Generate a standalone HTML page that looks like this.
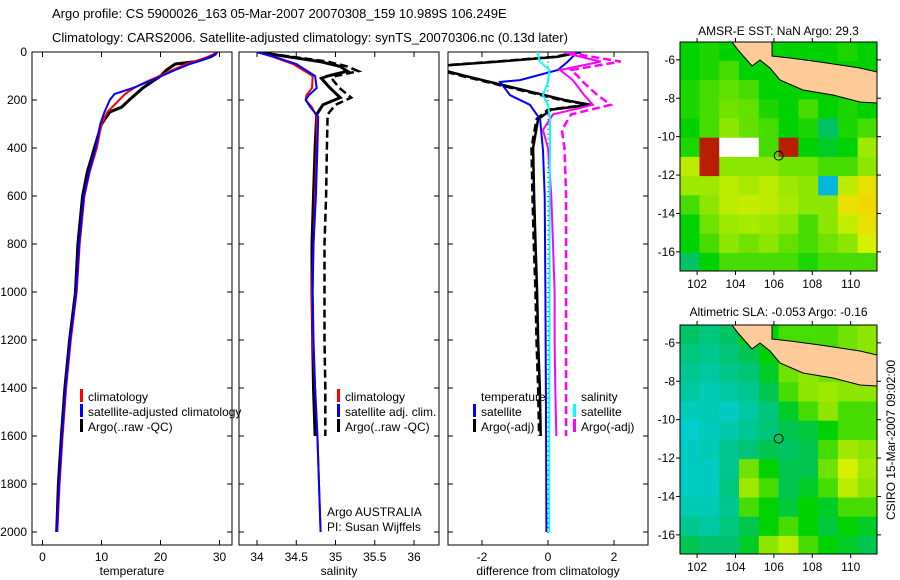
<!DOCTYPE html>
<html><head><meta charset="utf-8">
<style>
html,body{margin:0;padding:0;background:#fff;}
svg{display:block;font-family:"Liberation Sans",sans-serif;}
</style></head>
<body>
<svg id="fig" width="900" height="580" viewBox="0 0 900 580" xmlns="http://www.w3.org/2000/svg">
<text x="52" y="18" font-size="13">Argo profile: CS 5900026_163 05-Mar-2007 20070308_159 10.989S 106.249E</text>
<text x="52" y="42" font-size="13">Climatology: CARS2006. Satellite-adjusted climatology: synTS_20070306.nc (0.13d later)</text>
<g id="plots"></g>
</svg>
<script>
// ---------- data ----------
const tempClimDepth=[0,10,30,50,75,100,125,150,175,200,250,300,400,500,600,800,1000,1200,1400,1600,1800,2000];
const tempClim=[29.3,29,27,24.4,22,19.8,17.5,15.5,14,13,11,10,9.2,8,7.1,6.3,5.8,4.8,4.0,3.4,2.9,2.5];
const tempSat=[29.6,29.3,27.5,25,22.5,20.2,17.8,15.3,12.2,11.4,10.5,9.8,9.0,7.9,7.0,6.2,5.7,4.7,3.9,3.3,2.8,2.4];
const tempArgoDepth=[0,10,20,40,50,75,100,150,200,230,250,300,400,500,600,800,1000,1200,1400,1600,1800,2000];
const tempArgo=[29.5,29.2,28.5,26,22.5,21,20,17,14.7,13.4,11.4,10,8.8,7.6,6.8,6.0,5.6,4.6,3.8,3.2,2.7,2.4];

const salDepth=[0,20,50,100,150,180,200,230,270,400,600,800,1000,1200,1400,1600,1800,2000];
const salClim=[34.0,34.2,34.46,34.71,34.7,34.63,34.62,34.7,34.76,34.76,34.74,34.72,34.7,34.71,34.74,34.77,34.79,34.81];
const salSat=[34.0,34.22,34.5,34.74,34.76,34.66,34.62,34.68,34.78,34.77,34.75,34.72,34.71,34.72,34.74,34.77,34.79,34.81];
const salArgoDepth=[0,20,40,60,80,100,110,150,190,220,260,400,600,800,1000,1200,1400,1600];
const salArgo=[34.0,34.4,34.8,35.06,35.15,34.9,34.82,34.93,35.06,34.84,34.76,34.74,34.72,34.7,34.7,34.71,34.72,34.74];
const salArgoRaw=[34.0,34.45,34.9,35.15,35.29,35.0,34.95,35.05,35.2,35.0,34.9,34.89,34.88,34.86,34.86,34.86,34.87,34.87];

const dTDepth=[0,20,40,60,75,100,150,200,220,240,280,400,600,800,1000,1200,1400,1600];
const dTArgo=[1.0,0.3,-1.5,-3.5,-3.2,-2.5,-1.0,0.5,1.3,0.1,-0.3,-0.45,-0.42,-0.38,-0.33,-0.3,-0.25,-0.22];
const dTArgoRaw=[0.9,0.2,-1.6,-3.6,-3.3,-2.6,-1.1,0.4,1.2,0.0,-0.35,-0.5,-0.47,-0.43,-0.38,-0.35,-0.3,-0.27];
const dSatDepth=[0,12,40,75,117,125,180,220,280,410,600,1000,1500,2000];
const dTSat=[0.9,0.8,0.6,0.3,-0.85,-1.45,-1.15,-0.55,-0.24,-0.15,-0.1,-0.08,-0.06,-0.05];
const dSSat=[-0.3,-0.3,-0.25,0.05,0.0,0.0,-0.15,0.0,0.06,0.06,0.05,0.05,0.04,0.04];
const dSDepth=[0,12,40,75,100,117,180,220,260,325,400,600,800,1000,1200,1400,1600];
const dSArgo=[0.5,0.75,1.6,0.36,0.6,0.75,1.1,1.36,0.15,-0.15,0.0,0.1,0.15,0.2,0.2,0.22,0.25];
const dSArgoRaw=[0.6,1.0,2.2,0.7,0.9,1.0,1.5,1.9,0.7,0.42,0.5,0.55,0.55,0.55,0.55,0.55,0.55];

const depthTicks=[0,200,400,600,800,1000,1200,1400,1600,1800,2000];
const tTicks=[0,10,20,30];
const sTicks=[34,34.5,35,35.5,36];
const dTicks=[-2,0,2];

const sstGrid=[
[.5,.52,.5,.5,.5,.5,.5,.5,.52,.5],
[.5,.52,.55,.5,.5,.5,.5,.5,.5,.5],
[.52,.55,.57,.55,.5,.5,.5,.5,.5,.5],
[.52,.55,.58,.57,.52,.5,.55,.5,.52,.5],
[.5,.55,.6,.57,.55,.5,.52,.45,.52,.55],
[.52,.97,null,null,.55,.97,.5,.48,.5,.62],
[.65,.97,.6,.6,.6,.58,.58,.55,.55,.6],
[.62,.62,.65,.63,.65,.62,.6,.3,.65,.72],
[.55,.6,.65,.66,.65,.63,.6,.6,.72,.74],
[.5,.58,.62,.63,.62,.6,.55,.6,.66,.72],
[.5,.55,.6,.58,.6,.57,.55,.58,.6,.68],
[.45,.5,.55,.55,.55,.55,.52,.55,.55,.55]];
const slaGrid=[
[.45,.42,.45,.5,.5,.55,.55,.55,.58,.6],
[.42,.4,.43,.46,.5,.55,.55,.55,.58,.6],
[.4,.38,.41,.43,.48,.58,.6,.58,.58,.6],
[.38,.36,.38,.4,.46,.55,.6,.62,.6,.6],
[.35,.36,.34,.38,.43,.48,.55,.6,.55,.55],
[.33,.35,.37,.4,.43,.46,.47,.5,.55,.55],
[.34,.36,.4,.43,.46,.45,.46,.55,.62,.6],
[.34,.34,.4,.58,.5,.46,.46,.58,.68,.62],
[.34,.34,.42,.62,.55,.46,.48,.55,.65,.6],
[.36,.36,.4,.55,.5,.47,.5,.48,.55,.55],
[.4,.38,.42,.46,.5,.55,.5,.47,.5,.48],
[.46,.44,.44,.48,.6,.65,.55,.5,.48,.46]];
const latTicks=[-6,-8,-10,-12,-14,-16];
const lonTicks=[102,104,106,108,110];
const argoLon=106.249, argoLat=-10.989;

// ---------- helpers ----------
const NS="http://www.w3.org/2000/svg";
const root=document.getElementById('plots');
function mk(tag,attrs,parent){const e=document.createElementNS(NS,tag);for(const k in attrs)e.setAttribute(k,attrs[k]);(parent||root).appendChild(e);return e;}
const yD=d=>52+d*0.24;
const xT=v=>42.5+v*5.9;
const xS=v=>257+(v-34)*78.5;
const xDf=v=>548+v*33;
const TOP=52,BOT=545;

function panel(name,x0,x1,xs,ticks,labels,xlab,showY){
  const g=mk('g',{});
  
  
  const cp=mk('clipPath',{id:'cp-'+name},g);
  mk('rect',{x:x0,y:TOP,width:x1-x0,height:BOT-TOP},cp);
  mk('rect',{x:x0,y:TOP,width:x1-x0,height:BOT-TOP,fill:'#fff',stroke:'#000','stroke-width':1},g);
  ticks.forEach((t,i)=>{const x=xs(t);
    mk('line',{x1:x,x2:x,y1:TOP,y2:TOP+5,stroke:'#000'},g);
    mk('line',{x1:x,x2:x,y1:BOT,y2:BOT-5,stroke:'#000'},g);
    const tx=mk('text',{x:x,y:BOT+16,'font-size':12,'text-anchor':'middle'},g);tx.textContent=labels[i];
    
    
  });
  depthTicks.forEach(d=>{const y=yD(d);
    mk('line',{x1:x0,x2:x0+5,y1:y,y2:y,stroke:'#000'},g);
    mk('line',{x1:x1,x2:x1-5,y1:y,y2:y,stroke:'#000'},g);
    if(showY){const t=mk('text',{x:x0-5,y:y+4,'font-size':12,'text-anchor':'end'},g);t.textContent=d;
      
      }
  });
  const xl=mk('text',{x:(x0+x1)/2,y:575,'font-size':12,'text-anchor':'middle'},g);xl.textContent=xlab;
  
  
  const inner=mk('g',{'clip-path':'url(#cp-'+name+')'},g);
  return inner;
}
function line(g,name,depths,vals,xs,color,dash,w){
  const pts=depths.map((d,i)=>xs(vals[i]).toFixed(1)+','+yD(d).toFixed(1)).join(' ');
  const p=mk('polyline',{points:pts,fill:'none',stroke:color,'stroke-width':w||2,'stroke-dasharray':dash||'none'},g);
  
  
}
function legendEntry(g,name,x,y,color,text){
  const e=mk('g',{},g);
  
  
  if(color) mk('rect',{x:x,y:y-9,width:3,height:13,fill:color},e);
  const t=mk('text',{x:x+8,y:y+3,'font-size':12},e);t.textContent=text;
}

// ---------- temperature panel ----------
const p1=panel('temperature-panel',32,232,xT,tTicks,tTicks.map(String),'temperature',true);
line(p1,'argo-temperature-line',tempArgoDepth,tempArgo,xT,'#000','',3);
line(p1,'climatology-temperature-line',tempClimDepth,tempClim,xT,'#f00','',2);
line(p1,'satellite-temperature-line',tempClimDepth,tempSat,xT,'#00f','',2);

// ---------- salinity panel ----------
const p2=panel('salinity-panel',239,439,xS,sTicks,['34','34.5','35','35.5','36'],'salinity',false);
line(p2,'argo-raw-salinity-line',salArgoDepth,salArgoRaw,xS,'#000','8,4',2.5);
line(p2,'argo-salinity-line',salArgoDepth,salArgo,xS,'#000','',3);
line(p2,'climatology-salinity-line',salDepth,salClim,xS,'#f00','',2);
line(p2,'satellite-salinity-line',salDepth,salSat,xS,'#00f','',2);

// ---------- difference panel ----------
const p3=panel('difference-panel',448,648,xDf,dTicks,['-2','0','2'],'difference from climatology',false);
for(let d=0;d<=2000;d+=20){mk('rect',{x:547.5,y:yD(d),width:1,height:1,fill:'#000'},p3);}
line(p3,'argo-raw-temperature-diff-line',dTDepth,dTArgoRaw,xDf,'#000','8,4',2.5);
line(p3,'argo-temperature-diff-line',dTDepth,dTArgo,xDf,'#000','',2.5);
line(p3,'satellite-temperature-diff-line',dSatDepth,dTSat,xDf,'#00f','',2);
line(p3,'argo-raw-salinity-diff-line',dSDepth,dSArgoRaw,xDf,'#f0f','8,4',2.5);
line(p3,'argo-salinity-diff-line',dSDepth,dSArgo,xDf,'#f0f','',2);
line(p3,'satellite-salinity-diff-line',dSatDepth,dSSat,xDf,'#0ff','',2);

// legends
const lg=mk('g',{});
legendEntry(lg,'legend-climatology',80,398,'#f00','climatology');
legendEntry(lg,'legend-satellite-adjusted',80,413,'#00f','satellite-adjusted climatology');
legendEntry(lg,'legend-argo',80,428,'#000','Argo(..raw -QC)');
legendEntry(p2,'legend-sal-climatology',337,398,'#f00','climatology');
legendEntry(p2,'legend-sal-satellite',337,413,'#00f','satellite adj. clim.');
legendEntry(p2,'legend-sal-argo',337,428,'#000','Argo(..raw -QC)');
legendEntry(p2,'argo-australia-label',319,513,null,'Argo AUSTRALIA');
legendEntry(p2,'pi-label',319,528,null,'PI: Susan Wijffels');
legendEntry(p3,'legend-temperature-header',473,398,null,'temperature');
legendEntry(p3,'legend-temp-satellite',473,413,'#00f','satellite');
legendEntry(p3,'legend-temp-argo',473,428,'#000','Argo(-adj)');
legendEntry(p3,'legend-salinity-header',573,398,null,'salinity');
legendEntry(p3,'legend-sal-satellite-diff',573,413,'#0ff','satellite');
legendEntry(p3,'legend-sal-argo-diff',573,428,'#f0f','Argo(-adj)');

// ---------- maps ----------
const stops=[[0,[0,0,160]],[.25,[0,140,255]],[.33,[0,205,205]],[.45,[0,195,100]],[.5,[0,210,0]],[.6,[140,230,0]],[.68,[215,240,0]],[.78,[255,200,0]],[.88,[255,120,0]],[1,[160,0,0]]];
function cmap(v){if(v===null)return '#fff';for(let i=1;i<stops.length;i++){if(v<=stops[i][0]){const a=stops[i-1],b=stops[i];const f=(v-a[0])/(b[0]-a[0]);const c=a[1].map((x,k)=>Math.round(x+(b[1][k]-x)*f));return 'rgb('+c.join(',')+')';}}return 'rgb(160,0,0)';}
const LON0=101.11, LAT0=-5.07, DEG=19.2;
function drawMap(name,top,grid,title,titleY){
  const g=mk('g',{});
  
  
  const L=680,R=877,B=top+229;
  const lx=lon=>L+(lon-LON0)*DEG, ly=lat=>top+(LAT0-lat)*DEG;
  const cp=mk('clipPath',{id:'cp-'+name},g);
  mk('rect',{x:L,y:top,width:R-L,height:B-top},cp);
  const inner=mk('g',{'clip-path':'url(#cp-'+name+')'},g);
  grid.forEach((row,r)=>row.forEach((v,c)=>{
    const cell=mk('rect',{x:lx(LON0+c*1.03)-0.3,y:ly(LAT0-r*1.0)-0.3,width:DEG*1.03+0.6,height:DEG+0.6,fill:cmap(v)},inner);
    
    
  }));
  const dy=top-42;
  const land=mk('polygon',{points:[[732,42],[772,42],[772,56],[790,58],[820,62],[840,65],[860,68],[877,72],[877,103],[860,102],[833,95],[803,90],[780,80],[770,68],[760,60],[752,66],[745,58],[738,50]].map(p=>p[0]+','+(p[1]+dy)).join(' '),fill:'#fc9',stroke:'#000','stroke-width':1},inner);
  
  
  const mk1=mk('circle',{cx:lx(argoLon),cy:ly(argoLat),r:4.5,fill:'none',stroke:'#000','stroke-width':1},g);
  
  
  mk('rect',{x:L,y:top,width:R-L,height:B-top,fill:'none',stroke:'#000'},g);
  latTicks.forEach(t=>{const y=ly(t);
    mk('line',{x1:L,x2:L-4,y1:y,y2:y,stroke:'#000'},g);
    mk('line',{x1:R,x2:R+4,y1:y,y2:y,stroke:'#000'},g);
    const tx=mk('text',{x:L-5,y:y+4,'font-size':12,'text-anchor':'end'},g);tx.textContent=t;
  });
  lonTicks.forEach(t=>{const x=lx(t);
    mk('line',{x1:x,x2:x,y1:B,y2:B+4,stroke:'#000'},g);
    mk('line',{x1:x,x2:x,y1:top,y2:top-4,stroke:'#000'},g);
    const tx=mk('text',{x:x,y:B+17,'font-size':12,'text-anchor':'middle'},g);tx.textContent=t;
  });
  const tt=mk('text',{x:(L+R)/2,y:titleY,'font-size':12,'text-anchor':'middle'},g);tt.textContent=title;
  
  
}
drawMap('sst-map',42,sstGrid,'AMSR-E SST: NaN Argo: 29.3',35);
drawMap('sla-map',325,slaGrid,'Altimetric SLA: -0.053 Argo: -0.16',316);
const side=mk('text',{x:895,y:440,'font-size':12,'text-anchor':'middle',transform:'rotate(-90 895 440)'});
side.textContent='CSIRO 15-Mar-2007 09:02:00';


</script>
</body></html>
